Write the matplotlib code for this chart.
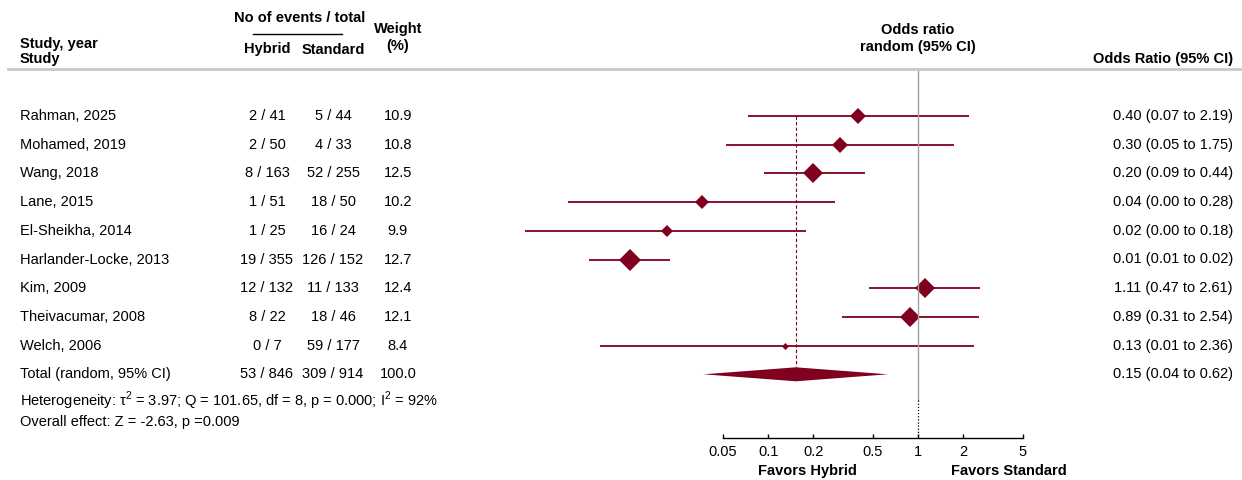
import matplotlib
matplotlib.use('Agg')
import matplotlib.pyplot as plt
from matplotlib.transforms import blended_transform_factory
from matplotlib.lines import Line2D
from matplotlib.patches import Polygon

plt.rcParams['font.family'] = ['Liberation Sans', 'DejaVu Sans']
plt.rcParams['font.size'] = 10.5
plt.rcParams['mathtext.fontset'] = 'custom'
plt.rcParams['mathtext.rm'] = 'Liberation Sans'

# data
studies = ['Rahman, 2025', 'Mohamed, 2019', 'Wang, 2018', 'Lane, 2015', 'El-Sheikha, 2014',
           'Harlander-Locke, 2013', 'Kim, 2009', 'Theivacumar, 2008', 'Welch, 2006']
hybrid = ['2 / 41', '2 / 50', '8 / 163', '1 / 51', '1 / 25', '19 / 355', '12 / 132', '8 / 22', '0 / 7']
standard = ['5 / 44', '4 / 33', '52 / 255', '18 / 50', '16 / 24', '126 / 152', '11 / 133', '18 / 46', '59 / 177']
weights = [10.9, 10.8, 12.5, 10.2, 9.9, 12.7, 12.4, 12.1, 8.4]
odds = [0.40, 0.30, 0.20, 0.036, 0.021, 0.012, 1.11, 0.89, 0.13]
lower = [0.074, 0.052, 0.094, 0.0046, 0.0024, 0.0064, 0.47, 0.31, 0.0076]
upper = [2.19, 1.75, 0.44, 0.28, 0.18, 0.022, 2.61, 2.54, 2.36]
or_labels = ['0.40 (0.07 to 2.19)', '0.30 (0.05 to 1.75)', '0.20 (0.09 to 0.44)', '0.04 (0.00 to 0.28)',
             '0.02 (0.00 to 0.18)', '0.01 (0.01 to 0.02)', '1.11 (0.47 to 2.61)', '0.89 (0.31 to 2.54)',
             '0.13 (0.01 to 2.36)']
total_or, total_lo, total_hi = 0.153, 0.037, 0.63
total_hybrid, total_standard, total_weight = '53 / 846', '309 / 914', '100.0'
total_label = '0.15 (0.04 to 0.62)'
ticks = [0.05, 0.1, 0.2, 0.5, 1, 2, 5]

red = '#800020'
W, H = 1242, 480
fig = plt.figure(figsize=(W / 100, H / 100), dpi=100)

# forest axes, pixel 500..1060 horizontally, 69..438 vertically
ax = fig.add_axes([500 / W, 1 - 438 / H, 560 / W, (438 - 69) / H])
ax.set_xscale('log')
ax.set_xlim(10 ** ((500 - 918) / 149.9), 10 ** ((1060 - 918) / 149.9))
row_px = 28.7
ax.set_ylim((438 - 116) / row_px, (69 - 116) / row_px)

for i in range(len(studies)):
    ax.plot([lower[i], upper[i]], [i, i], color=red, lw=1.3, solid_capstyle='butt')
    width_px = 5 + (weights[i] - 8.4) * 2.4
    ax.plot(odds[i], i, marker='D', color=red, markersize=width_px * 0.72, markeredgewidth=0)

n = len(studies)
h = 7 / row_px
ax.add_patch(Polygon([(total_lo, n), (total_or, n - h), (total_hi, n), (total_or, n + h)],
                     closed=True, color=red, lw=0))
ax.plot([total_or, total_or], [0, n - h], color=red, lw=0.8, ls=(0, (3, 2)))

# null line
ax.plot([1, 1], [(69 - 116) / row_px, (400 - 116) / row_px], color='#a0a0a0', lw=1)
ax.plot([1, 1], [(400 - 116) / row_px, (438 - 116) / row_px], color='black', lw=0.9, ls=(0, (1, 1.5)))

for s in ['top', 'left', 'right']:
    ax.spines[s].set_visible(False)
ax.spines['bottom'].set_bounds(0.05, 5)
ax.spines['bottom'].set_linewidth(1)
ax.set_yticks([])
ax.set_xticks(ticks)
ax.set_xticklabels([str(t) for t in ticks])
ax.minorticks_off()
ax.tick_params(axis='x', direction='in', length=3, width=1, pad=5, labelsize=10.5)

# table text
tr = blended_transform_factory(fig.transFigure, ax.transData)
for i in range(n):
    ax.text(20 / W, i, studies[i], transform=tr, ha='left', va='center', clip_on=False)
    ax.text(267 / W, i, hybrid[i], transform=tr, ha='center', va='center', clip_on=False)
    ax.text(333 / W, i, standard[i], transform=tr, ha='center', va='center', clip_on=False)
    ax.text(398 / W, i, f'{weights[i]:.1f}', transform=tr, ha='center', va='center', clip_on=False)
    ax.text(1233 / W, i, or_labels[i], transform=tr, ha='right', va='center', clip_on=False)
ax.text(20 / W, n, 'Total (random, 95% CI)', transform=tr, ha='left', va='center', clip_on=False)
ax.text(267 / W, n, total_hybrid, transform=tr, ha='center', va='center', clip_on=False)
ax.text(333 / W, n, total_standard, transform=tr, ha='center', va='center', clip_on=False)
ax.text(398 / W, n, total_weight, transform=tr, ha='center', va='center', clip_on=False)
ax.text(1233 / W, n, total_label, transform=tr, ha='right', va='center', clip_on=False)


def ftext(x, y, s, **kw):
    fig.text(x / W, 1 - y / H, s, va='center', **kw)


ftext(20, 401, 'Heterogeneity: τ$^2$ = 3.97; Q = 101.65, df = 8, p = 0.000; I$^2$ = 92%', ha='left')
ftext(20, 422, 'Overall effect: Z = -2.63, p =0.009', ha='left')

# headers
ftext(20, 44, 'Study, year', ha='left', weight='bold')
ftext(20, 59, 'Study', ha='left', weight='bold')
ftext(300, 18, 'No of events / total', ha='center', weight='bold')
ftext(267, 49, 'Hybrid', ha='center', weight='bold')
ftext(333, 50, 'Standard', ha='center', weight='bold')
ftext(398, 29, 'Weight', ha='center', weight='bold')
ftext(398, 46, '(%)', ha='center', weight='bold')
ftext(918, 30, 'Odds ratio', ha='center', weight='bold')
ftext(918, 47, 'random (95% CI)', ha='center', weight='bold')
ftext(1233, 59, 'Odds Ratio (95% CI)', ha='right', weight='bold')
ftext(807, 471, 'Favors Hybrid', ha='center', weight='bold', fontsize=10.5)
ftext(1009, 471, 'Favors Standard', ha='center', weight='bold', fontsize=10.5)

fig.add_artist(Line2D([253 / W, 342 / W], [1 - 34 / H, 1 - 34 / H], color='black', lw=1))
fig.add_artist(Line2D([8 / W, 1], [1 - 69 / H, 1 - 69 / H], color='#c8c8c8', lw=2))

fig.savefig('out.png', dpi=100)
